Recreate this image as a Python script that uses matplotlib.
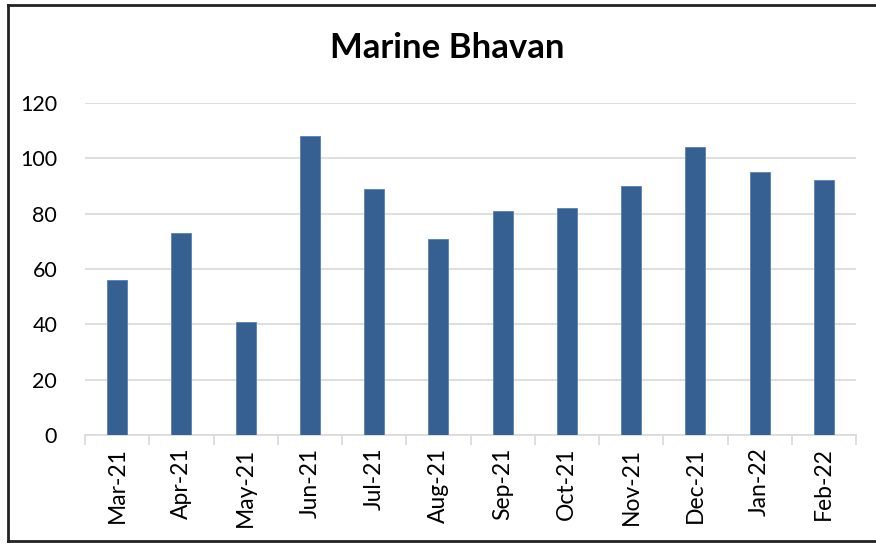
import numpy as np
import matplotlib
matplotlib.use("Agg")
import matplotlib.pyplot as plt
from matplotlib.lines import Line2D

months = ["Mar-21", "Apr-21", "May-21", "Jun-21", "Jul-21", "Aug-21",
          "Sep-21", "Oct-21", "Nov-21", "Dec-21", "Jan-22", "Feb-22"]
values = [56, 73, 41, 108, 89, 71, 81, 82, 90, 104, 95, 92]
y_ticks = [0, 20, 40, 60, 80, 100, 120]

plt.rcParams['font.family'] = ['Lato', 'DejaVu Sans']

W, H = 876, 544
fig = plt.figure(figsize=(W / 100, H / 100), dpi=100, facecolor='white')

# plot area in pixels: left 85, right 856, top 103 (120), bottom 435 (0)
ax = fig.add_axes([85 / W, 1 - 435 / H, (856 - 85) / W, (435 - 103) / H])

x = np.arange(len(months))
ax.bar(x, values, width=0.31, color='#376092', edgecolor='#5b80b0', linewidth=0.6, zorder=3)

ax.set_xlim(-0.5, len(months) - 0.5)
ax.set_ylim(0, 120)
ax.set_yticks(y_ticks)
ax.set_yticklabels([str(v) for v in y_ticks], fontsize=15.5)
ax.yaxis.grid(True, color='#d9d9d9', linewidth=1.2, zorder=0)
ax.tick_params(axis='y', length=0, pad=20)

# category labels at centres, tick marks at boundaries
ax.set_xticks(x)
ax.set_xticklabels(months, rotation=90, fontsize=16.5)
ax.tick_params(axis='x', which='major', length=0, pad=9)
ax.set_xticks(np.arange(-0.5, len(months)), minor=True)
ax.tick_params(axis='x', which='minor', length=7, color='#d9d9d9', width=1.2)

for side in ['top', 'right', 'left']:
    ax.spines[side].set_visible(False)
ax.spines['bottom'].set_color('#d9d9d9')
ax.spines['bottom'].set_linewidth(1.2)

fig.text(447 / W, 1 - 48 / H, "Marine Bhavan", fontsize=25, fontweight='bold',
         ha='center', va='center')

# outer frame of the chart
frame_kw = dict(color='#222222', linewidth=2, transform=fig.transFigure)
fig.add_artist(Line2D([8 / W, 8 / W], [1 - 5 / H, 1 - 541 / H], **frame_kw))
fig.add_artist(Line2D([8 / W, 1], [1 - 5 / H, 1 - 5 / H], **frame_kw))
fig.add_artist(Line2D([8 / W, 1], [1 - 541 / H, 1 - 541 / H], **frame_kw))

fig.savefig("out.png", dpi=100)
plt.close(fig)
